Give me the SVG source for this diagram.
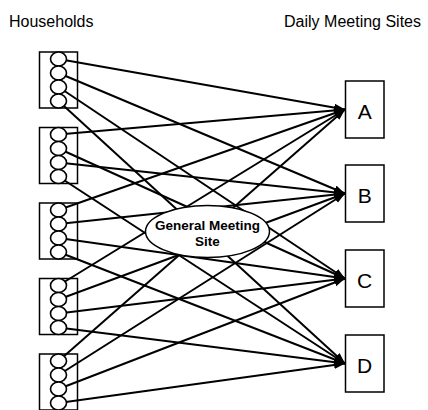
<svg xmlns="http://www.w3.org/2000/svg" width="428" height="410" viewBox="0 0 428 410">
<style>
.t{font-family:"Liberation Sans",Arial,sans-serif;fill:#000}
.hb{fill:none;stroke:#000;stroke-width:1.5}
.c{fill:#fff;stroke:#000;stroke-width:1.6}
.sb{fill:#fff;stroke:#000;stroke-width:1.5}
.ln{stroke:#000;stroke-width:2;fill:none;marker-end:url(#ah)}
</style>
<defs>
<marker id="ah" markerUnits="userSpaceOnUse" markerWidth="12" markerHeight="9" refX="11" refY="4" orient="auto">
<path d="M0,0 L11,4 L0,8 z" fill="#000"/>
</marker>
</defs>
<rect width="428" height="410" fill="#fff"/>
<text class="t" x="9" y="27" font-size="16">Households</text>
<text class="t" x="421" y="27" font-size="16" text-anchor="end">Daily Meeting Sites</text>
<g id="connectors">
<line class="ln" x1="58.5" y1="59" x2="345" y2="109.5"/>
<line class="ln" x1="58.5" y1="73" x2="345" y2="193.5"/>
<line class="ln" x1="58.5" y1="87" x2="345" y2="278.5"/>
<line class="ln" x1="58.5" y1="101" x2="345" y2="363.5"/>
<line class="ln" x1="58.5" y1="134.5" x2="345" y2="109.5"/>
<line class="ln" x1="58.5" y1="148.5" x2="345" y2="278.5"/>
<line class="ln" x1="58.5" y1="162.5" x2="345" y2="193.5"/>
<line class="ln" x1="58.5" y1="176.5" x2="345" y2="363.5"/>
<line class="ln" x1="58.5" y1="210" x2="345" y2="109.5"/>
<line class="ln" x1="58.5" y1="224" x2="345" y2="193.5"/>
<line class="ln" x1="58.5" y1="238" x2="345" y2="278.5"/>
<line class="ln" x1="58.5" y1="252" x2="345" y2="363.5"/>
<line class="ln" x1="58.5" y1="285.5" x2="345" y2="109.5"/>
<line class="ln" x1="58.5" y1="299.5" x2="345" y2="193.5"/>
<line class="ln" x1="58.5" y1="313.5" x2="345" y2="278.5"/>
<line class="ln" x1="58.5" y1="327.5" x2="345" y2="363.5"/>
<line class="ln" x1="58.5" y1="361" x2="345" y2="109.5"/>
<line class="ln" x1="58.5" y1="375" x2="345" y2="193.5"/>
<line class="ln" x1="58.5" y1="389" x2="345" y2="278.5"/>
<line class="ln" x1="58.5" y1="403" x2="345" y2="363.5"/>
</g>
<g id="household1">
<rect class="hb" x="39.5" y="52" width="38" height="56"/>
<ellipse class="c" cx="58.5" cy="59" rx="8" ry="7"/>
<ellipse class="c" cx="58.5" cy="73" rx="8" ry="7"/>
<ellipse class="c" cx="58.5" cy="87" rx="8" ry="7"/>
<ellipse class="c" cx="58.5" cy="101" rx="8" ry="7"/>
</g>
<g id="household2">
<rect class="hb" x="39.5" y="127.5" width="38" height="56"/>
<ellipse class="c" cx="58.5" cy="134.5" rx="8" ry="7"/>
<ellipse class="c" cx="58.5" cy="148.5" rx="8" ry="7"/>
<ellipse class="c" cx="58.5" cy="162.5" rx="8" ry="7"/>
<ellipse class="c" cx="58.5" cy="176.5" rx="8" ry="7"/>
</g>
<g id="household3">
<rect class="hb" x="39.5" y="203" width="38" height="56"/>
<ellipse class="c" cx="58.5" cy="210" rx="8" ry="7"/>
<ellipse class="c" cx="58.5" cy="224" rx="8" ry="7"/>
<ellipse class="c" cx="58.5" cy="238" rx="8" ry="7"/>
<ellipse class="c" cx="58.5" cy="252" rx="8" ry="7"/>
</g>
<g id="household4">
<rect class="hb" x="39.5" y="278.5" width="38" height="56"/>
<ellipse class="c" cx="58.5" cy="285.5" rx="8" ry="7"/>
<ellipse class="c" cx="58.5" cy="299.5" rx="8" ry="7"/>
<ellipse class="c" cx="58.5" cy="313.5" rx="8" ry="7"/>
<ellipse class="c" cx="58.5" cy="327.5" rx="8" ry="7"/>
</g>
<g id="household5">
<rect class="hb" x="39.5" y="354" width="38" height="56"/>
<ellipse class="c" cx="58.5" cy="361" rx="8" ry="7"/>
<ellipse class="c" cx="58.5" cy="375" rx="8" ry="7"/>
<ellipse class="c" cx="58.5" cy="389" rx="8" ry="7"/>
<ellipse class="c" cx="58.5" cy="403" rx="8" ry="7"/>
</g>
<g id="general">
<ellipse cx="207.5" cy="231.5" rx="62" ry="26" fill="#fff" stroke="#000" stroke-width="1.5"/>
<text class="t" x="207.5" y="229.5" font-size="13.5" font-weight="bold" text-anchor="middle">General Meeting</text>
<text class="t" x="207.5" y="245.5" font-size="13.5" font-weight="bold" text-anchor="middle">Site</text>
</g>
<g id="siteA">
<rect class="sb" x="345.5" y="81" width="38.5" height="57"/>
<text class="t" x="364.7" y="118.5" font-size="21" text-anchor="middle">A</text>
</g>
<g id="siteB">
<rect class="sb" x="345.5" y="165" width="38.5" height="57"/>
<text class="t" x="364.7" y="202.5" font-size="21" text-anchor="middle">B</text>
</g>
<g id="siteC">
<rect class="sb" x="345.5" y="250" width="38.5" height="57"/>
<text class="t" x="364.7" y="287.5" font-size="21" text-anchor="middle">C</text>
</g>
<g id="siteD">
<rect class="sb" x="345.5" y="335" width="38.5" height="57"/>
<text class="t" x="364.7" y="372.5" font-size="21" text-anchor="middle">D</text>
</g>
</svg>
